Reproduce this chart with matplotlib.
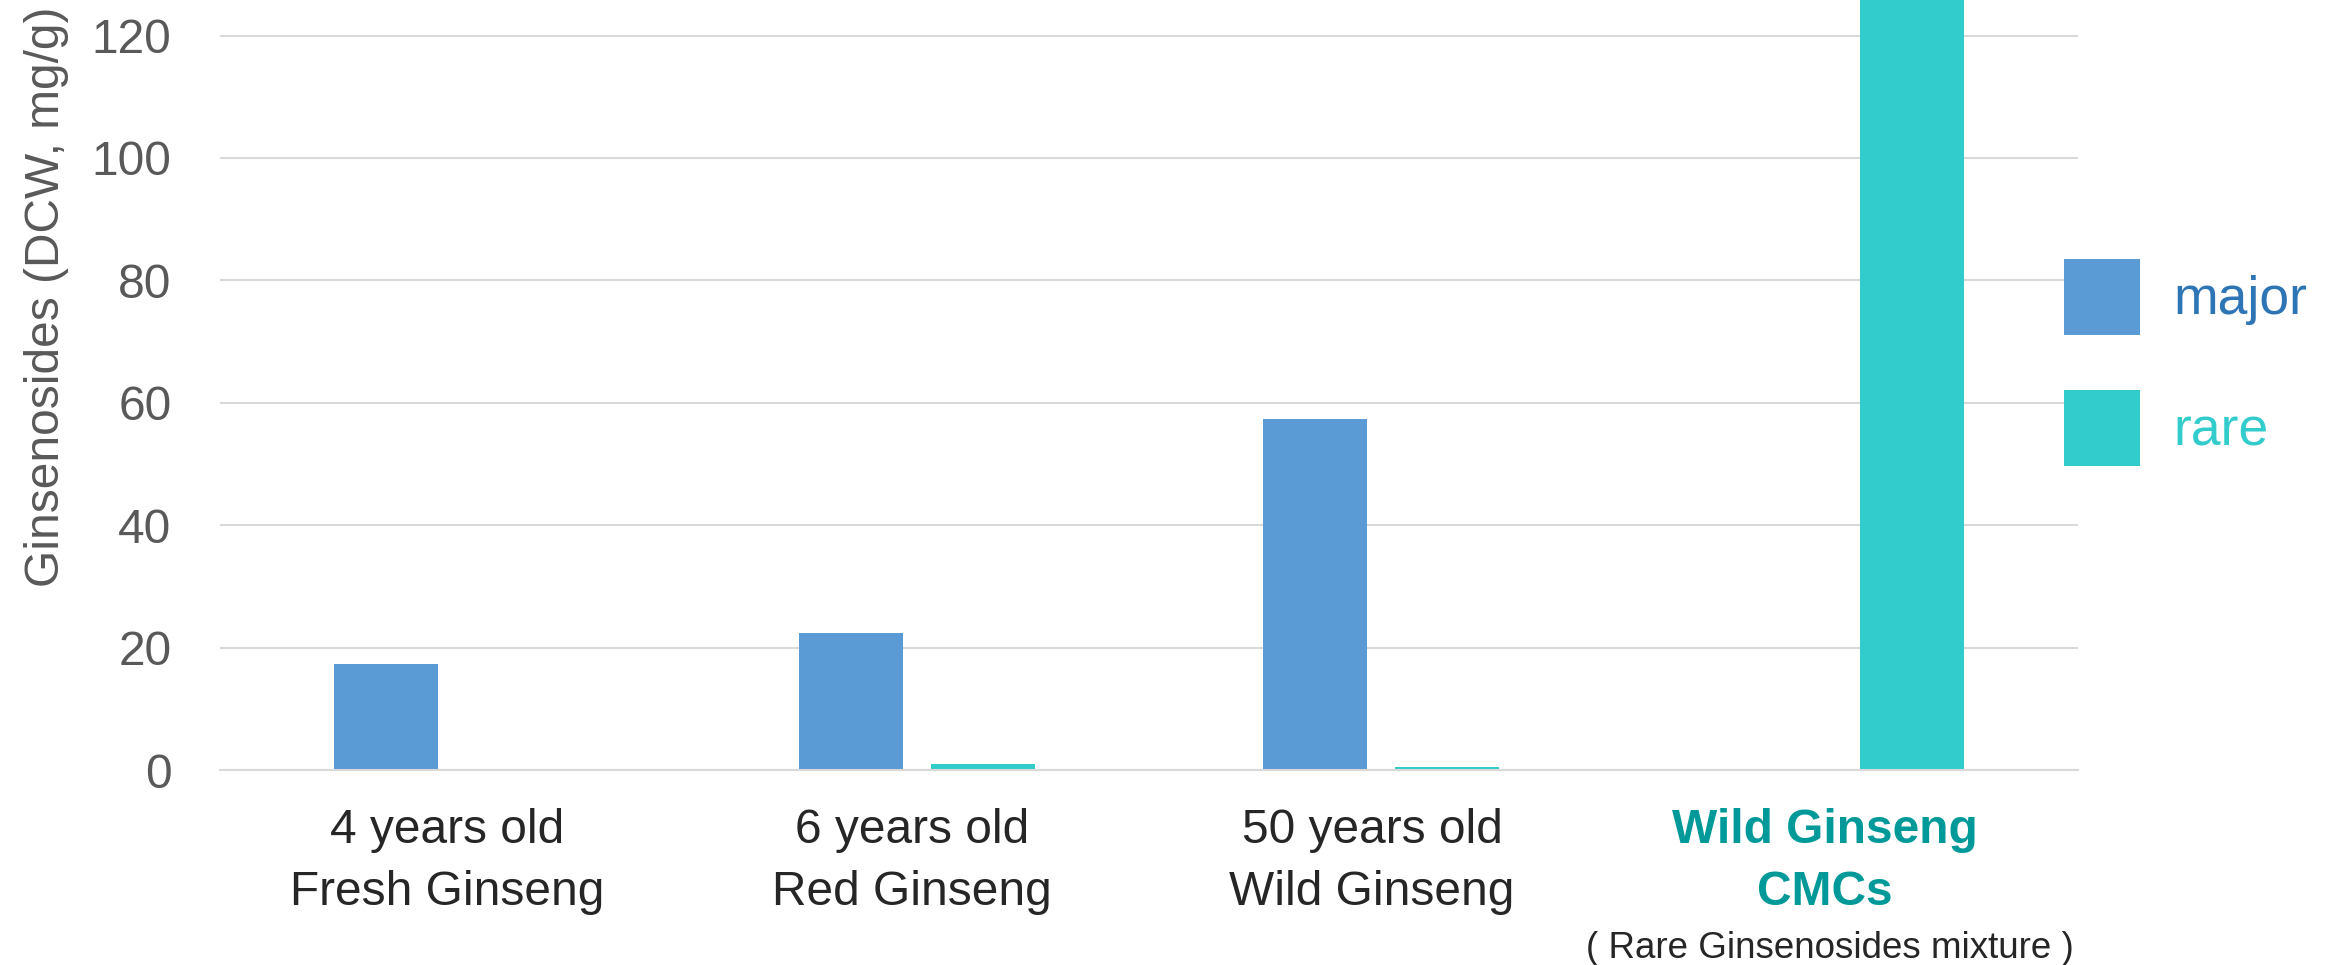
import matplotlib
matplotlib.use("Agg")
import matplotlib.pyplot as plt
from matplotlib.patches import Patch
from matplotlib.transforms import blended_transform_factory
import numpy as np

# Ginsenoside content per product (mg/g dry cell weight)
categories = ["4 years old\nFresh Ginseng", "6 years old\nRed Ginseng",
              "50 years old\nWild Ginseng", "Wild Ginseng\nCMCs"]
subtitle = "( Rare Ginsenosides mixture )"
series_names = ["major", "rare"]
major = [17.3, 22.4, 57.4, 0.0]
rare = [0.0, 1.0, 0.5, 140.0]
yticks = [0, 20, 40, 60, 80, 100, 120]

C_MAJOR = "#5B9BD5"
C_RARE = "#33CCCC"
C_MAJOR_TXT = "#2E75B6"
C_HIGHLIGHT = "#009999"
C_TICK = "#595959"
C_LABEL = "#262626"
C_GRID = "#D9D9D9"

plt.rcParams["font.family"] = ["Liberation Sans", "DejaVu Sans"]
FS = 34.5
FS_LEG = 38.5

W, H = 2331, 965
fig = plt.figure(figsize=(W / 100, H / 100), dpi=100)
ax = fig.add_axes([220 / W, 195 / H, 1858 / W, 770 / H])

x = np.arange(len(categories))
bw = 0.224
off = 0.1424
ax.bar(x - off, major, bw, color=C_MAJOR, zorder=2)
ax.bar(x + off, rare, bw, color=C_RARE, zorder=2)

ax.set_xlim(-0.5, 3.5)
ax.set_ylim(0, 125.8)
ax.set_yticks(yticks)
ax.set_yticklabels([str(v) for v in yticks], fontsize=FS, color=C_TICK)
ax.tick_params(axis="y", length=0, pad=35)
ax.set_xticks([])
ax.set_axisbelow(True)
ax.yaxis.grid(True, color=C_GRID, linewidth=1.5)
for s in ["top", "right", "left"]:
    ax.spines[s].set_visible(False)
ax.spines["bottom"].set_color(C_GRID)
ax.spines["bottom"].set_linewidth(1.5)

ax.set_ylabel("Ginsenosides (DCW, mg/g)", fontsize=FS, color=C_TICK)
ax.yaxis.label.set_va("center")
ax.yaxis.set_label_coords((47 - 220) / 1858, (770 - 297) / 770)

# category labels, two lines each
trans = blended_transform_factory(ax.transData, fig.transFigure)
shift = [-0.01, -0.01, -0.02, -0.045]
baselines = [843, 905]
for i, cat in enumerate(categories):
    last = i == len(categories) - 1
    for j, line in enumerate(cat.split("\n")):
        ax.text(x[i] + shift[i], (H - baselines[j]) / H, line, transform=trans,
                ha="center", va="baseline", fontsize=FS,
                color=C_HIGHLIGHT if last else C_LABEL,
                fontweight="bold" if last else "normal")
ax.text(x[-1] + shift[-1] + 0.01, (H - 958) / H, subtitle, transform=trans,
        ha="center", va="baseline", fontsize=26.5, color=C_LABEL)

handles = [Patch(facecolor=C_MAJOR), Patch(facecolor=C_RARE)]
ax.legend(handles, series_names, loc="upper left",
          bbox_to_anchor=(2064 / W, 1 - 259 / H), bbox_transform=fig.transFigure,
          frameon=False, fontsize=FS_LEG, handlelength=1.42, handleheight=1.81,
          handletextpad=0.62, labelspacing=1.03, borderpad=0, borderaxespad=0,
          labelcolor=[C_MAJOR_TXT, C_RARE])

fig.savefig("out.png", dpi=100)
